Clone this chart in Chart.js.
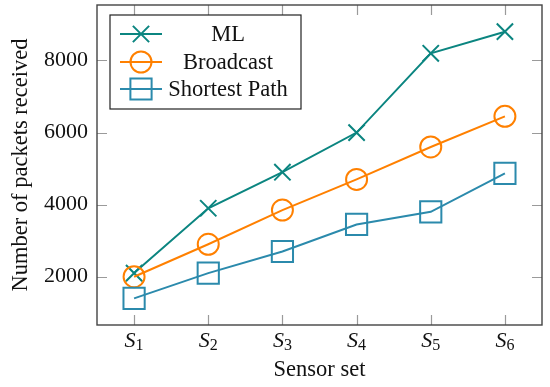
<!DOCTYPE html>
<html>
<head>
<meta charset="utf-8">
<script src="https://cdn.jsdelivr.net/npm/chart.js@4"></script>
<style>
  html, body { margin: 0; padding: 0; background: #fff; }
  #wrap { width: 550px; height: 387px; }
</style>
</head>
<body>
<div id="wrap"><canvas id="chart" width="550" height="387"></canvas></div>
<script>
// data
const sensorSets = ['1', '2', '3', '4', '5', '6'];
const mlPackets = [2100, 3900, 4900, 6000, 8200, 8800];
const broadcastPackets = [2000, 2900, 3850, 4700, 5600, 6450];
const shortestPathPackets = [1400, 2100, 2700, 3450, 3800, 4870];
const yTicks = [2000, 4000, 6000, 8000];

const FONT = "'Liberation Serif', 'DejaVu Serif', serif";
const TEXT_SIZE = 22.5;
const TEAL = '#0b8580';
const ORANGE = '#ff8000';
const BLUE = '#2b8aac';

function series(label, values, color, style, radius, order) {
    return {
        label: label,
        data: values,
        borderColor: color,
        backgroundColor: 'transparent',
        borderWidth: 2,
        pointStyle: style,
        pointRadius: radius,
        pointBorderWidth: 2,
        pointBorderColor: color,
        pointBackgroundColor: 'transparent',
        tension: 0,
        order: order,
        clip: false
    };
}

// frame, inside ticks, subscripted x labels and the boxed legend
const axisDecor = {
    id: 'axisDecor',
    afterDraw(chart) {
        const ctx = chart.ctx;
        const a = chart.chartArea;
        const xs = chart.scales.x;
        const ys = chart.scales.y;
        const tickLen = 10;

        ctx.save();
        ctx.strokeStyle = '#9a9a9a';
        ctx.lineWidth = 1.2;
        ctx.beginPath();
        sensorSets.forEach((s, i) => {
            const px = Math.round(xs.getPixelForValue(i)) + 0.5;
            ctx.moveTo(px, a.bottom); ctx.lineTo(px, a.bottom - tickLen);
            ctx.moveTo(px, a.top); ctx.lineTo(px, a.top + tickLen);
        });
        yTicks.forEach(v => {
            const py = Math.round(ys.getPixelForValue(v)) + 0.5;
            ctx.moveTo(a.left, py); ctx.lineTo(a.left + tickLen, py);
            ctx.moveTo(a.right, py); ctx.lineTo(a.right - tickLen, py);
        });
        ctx.stroke();

        ctx.strokeStyle = '#444';
        ctx.lineWidth = 1.4;
        ctx.strokeRect(a.left, a.top, a.right - a.left, a.bottom - a.top);

        // x tick labels: italic S with upright subscript
        ctx.fillStyle = '#111';
        ctx.textBaseline = 'alphabetic';
        ctx.textAlign = 'left';
        sensorSets.forEach((s, i) => {
            const px = xs.getPixelForValue(i);
            ctx.font = 'italic 22px ' + FONT;
            const wS = ctx.measureText('S').width;
            ctx.font = '16px ' + FONT;
            const wSub = ctx.measureText(s).width;
            const x0 = px - (wS + wSub) / 2;
            ctx.font = 'italic 22px ' + FONT;
            ctx.fillText('S', x0, 347);
            ctx.font = '16px ' + FONT;
            ctx.fillText(s, x0 + wS, 350);
        });

        // legend
        const box = { left: 110, top: 15, right: 301, bottom: 109 };
        ctx.fillStyle = '#fff';
        ctx.fillRect(box.left, box.top, box.right - box.left, box.bottom - box.top);
        ctx.strokeStyle = '#222';
        ctx.lineWidth = 1.2;
        ctx.strokeRect(box.left, box.top, box.right - box.left, box.bottom - box.top);

        const rows = [34, 62, 89];
        chart.data.datasets.forEach((ds, i) => {
            const y = rows[i];
            ctx.strokeStyle = ds.borderColor;
            ctx.fillStyle = 'rgba(0,0,0,0)';
            ctx.lineWidth = 2;
            ctx.beginPath();
            ctx.moveTo(120, y); ctx.lineTo(162, y);
            ctx.stroke();
            Chart.helpers.drawPoint(ctx, {
                pointStyle: ds.pointStyle,
                radius: ds.pointRadius,
                borderWidth: 2,
                rotation: 0
            }, 141, y);
            ctx.fillStyle = '#111';
            ctx.font = TEXT_SIZE + 'px ' + FONT;
            ctx.textAlign = 'center';
            ctx.textBaseline = 'middle';
            ctx.fillText(ds.label, 228, y + 1);
        });
        ctx.restore();
    }
};

const chart = new Chart(document.getElementById('chart'), {
    type: 'line',
    data: {
        labels: sensorSets,
        datasets: [
            series('ML', mlPackets, TEAL, 'crossRot', 11.5, 3),
            series('Broadcast', broadcastPackets, ORANGE, 'circle', 10.5, 2),
            series('Shortest Path', shortestPathPackets, BLUE, 'rect', 15, 1)
        ]
    },
    options: {
        responsive: false,
        animation: false,
        layout: { autoPadding: false, padding: { top: 5, right: 8, left: 0, bottom: 0 } },
        plugins: {
            legend: { display: false },
            tooltip: { enabled: false }
        },
        scales: {
            x: {
                type: 'category',
                offset: true,
                grid: { display: false },
                border: { display: false },
                ticks: { display: false },
                afterFit(scale) {
                    scale.height = 62;
                    scale.paddingLeft = 0;
                    scale.paddingRight = 0;
                },
                title: {
                    display: true,
                    text: 'Sensor set',
                    color: '#111',
                    font: { family: FONT, size: TEXT_SIZE },
                    padding: { top: 0, bottom: 3 }
                }
            },
            y: {
                min: 660,
                max: 9540,
                grid: { display: false, drawTicks: false },
                border: { display: false },
                afterBuildTicks(scale) { scale.ticks = yTicks.map(v => ({ value: v })); },
                afterFit(scale) {
                    scale.width = 97;
                    scale.paddingTop = 0;
                    scale.paddingBottom = 0;
                },
                ticks: {
                    padding: 9,
                    color: '#111',
                    font: { family: FONT, size: 22 },
                    callback: v => String(v)
                },
                title: {
                    display: true,
                    text: 'Number of packets received',
                    color: '#111',
                    font: { family: FONT, size: TEXT_SIZE },
                    padding: { top: 8, bottom: 0 }
                }
            }
        }
    },
    plugins: [axisDecor]
});
</script>
</body>
</html>
